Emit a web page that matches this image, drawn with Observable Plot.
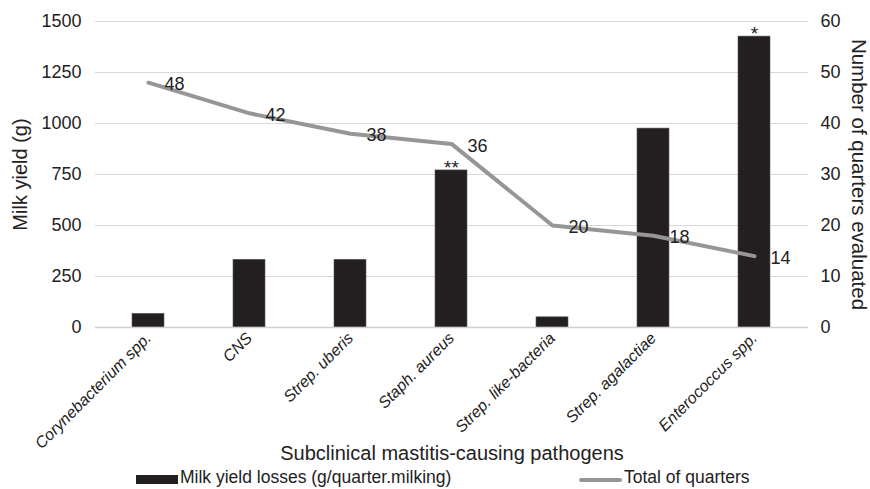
<!DOCTYPE html>
<html>
<head>
<meta charset="utf-8">
<script src="https://cdn.jsdelivr.net/npm/d3@7"></script>
<script src="https://cdn.jsdelivr.net/npm/@observablehq/plot@0.6"></script>
<style>
  html, body { margin: 0; padding: 0; background: #fff; }
  body { width: 870px; height: 489px; overflow: hidden; font-family: "Liberation Sans", Arial, sans-serif; color: #222; }
  #chart svg { display: block; font-family: "Liberation Sans", Arial, sans-serif; }
  #legend { position: relative; height: 24px; width: 870px; font-size: 17.5px; color: #222; }
  #legend .sw1 { position: absolute; left: 136px; top: 10px; width: 42px; height: 9px; background: #231f20; }
  #legend .t1 { position: absolute; left: 180px; top: 3px; line-height: 19px; }
  #legend .sw2 { position: absolute; left: 579px; top: 13px; width: 43px; height: 4px; background: #969696; border-radius: 2px; }
  #legend .t2 { position: absolute; left: 624px; top: 3px; line-height: 19px; }
</style>
</head>
<body>
<div id="chart"></div>
<div id="legend">
  <div class="sw1"></div><div class="t1">Milk yield losses (g/quarter.milking)</div>
  <div class="sw2"></div><div class="t2">Total of quarters</div>
</div>
<script>
const categories = ["Corynebacterium spp.", "CNS", "Strep. uberis", "Staph. aureus", "Strep. like-bacteria", "Strep. agalactiae", "Enterococcus spp."];
const milkLoss = [67, 332, 332, 770, 50, 975, 1426];
const quarters = [48, 42, 38, 36, 20, 18, 14];
const leftTicks = [0, 250, 500, 750, 1000, 1250, 1500];
const significance = ["", "", "", "**", "", "", "*"];
const RATIO = 1500 / 60; // right axis max 60 maps to left axis max 1500

const data = categories.map((c, i) => ({cat: c, loss: milkLoss[i], q: quarters[i], sig: significance[i]}));

const plot = Plot.plot({
  width: 870,
  height: 465,
  marginLeft: 95,
  marginRight: 62,
  marginTop: 21,
  marginBottom: 138,
  style: {fontFamily: "Liberation Sans, Arial, sans-serif", color: "#222", background: "#fff"},
  x: {type: "band", domain: categories, paddingInner: 0.68, paddingOuter: 0.34, label: null},
  y: {domain: [0, 1500], label: null},
  marks: [
    Plot.ruleY(leftTicks.filter(d => d > 0), {stroke: "#d9d9d9", strokeWidth: 1}),
    Plot.barY(data, {x: "cat", y: "loss", fill: "#231f20", stroke: "#5a5a5a", strokeWidth: 0.6}),
    Plot.ruleY([0], {stroke: "#d0d0d0", strokeWidth: 1.5}),
    Plot.line(data, {x: "cat", y: d => d.q * RATIO, stroke: "#969696", strokeWidth: 4, strokeLinecap: "round", strokeLinejoin: "round"}),
    Plot.text(data, {x: "cat", y: d => d.q * RATIO, text: d => String(d.q), dx: 16, dy: 2, textAnchor: "start", fontSize: 18, fill: "#222"}),
    Plot.text(data.filter(d => d.sig), {x: "cat", y: "loss", text: "sig", dy: -3, fontSize: 19, fill: "#222"}),
    Plot.axisY({anchor: "left", ticks: leftTicks, tickFormat: d => String(d), tickSize: 0, tickPadding: 14, fontSize: 18, label: null}),
    Plot.axisY({anchor: "right", ticks: leftTicks, tickFormat: d => String(d / RATIO), tickSize: 0, tickPadding: 12, fontSize: 18, label: null}),
    Plot.axisX({tickRotate: -45, tickSize: 0, tickPadding: 8, fontSize: 16, fontStyle: "italic", label: null}),
    Plot.text(["Milk yield (g)"], {frameAnchor: "left", textAnchor: "middle", dx: -75, rotate: -90, fontSize: 20, fill: "#222"}),
    Plot.text(["Number of quarters evaluated"], {frameAnchor: "right", textAnchor: "middle", dx: 50, rotate: 90, fontSize: 20.5, fill: "#222"}),
    Plot.text(["Subclinical mastitis-causing pathogens"], {frameAnchor: "bottom", dy: 132, fontSize: 20, fill: "#222"})
  ]
});
document.getElementById("chart").appendChild(plot);
</script>
</body>
</html>
